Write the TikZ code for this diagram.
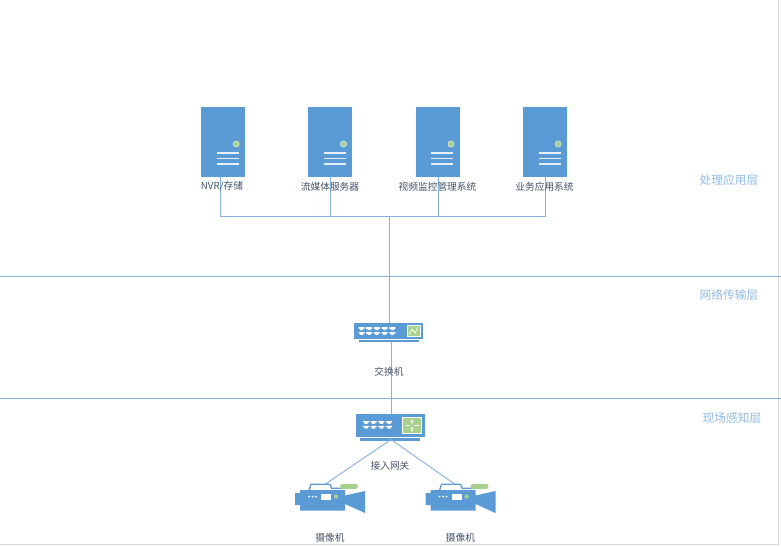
\documentclass[tikz,border=0pt]{standalone}
\usepackage{fontspec}
\setmainfont{Noto Sans CJK SC}
\usetikzlibrary{calc}
\definecolor{iconblue}{HTML}{5B9BD5}
\definecolor{icongreen}{HTML}{A9D18E}
\definecolor{linkblue}{HTML}{85B2DF}
\definecolor{labelgrey}{HTML}{44546A}
\definecolor{layerblue}{HTML}{8FBBE5}
\definecolor{pagegrey}{HTML}{D9D9D9}
\tikzset{
  x=0.75pt,y=-0.75pt,
  link/.style={draw=linkblue,line width=0.7pt},
  pageedge/.style={draw=pagegrey,line width=1.1pt},
  iconbody/.style={fill=iconblue,draw=white,line width=0.35pt,inner sep=0pt,outer sep=0pt},
  itemlabel/.style={text=labelgrey,font=\fontsize{7.3pt}{9pt}\selectfont,inner sep=0pt},
  layerlabel/.style={text=layerblue,font=\fontsize{8.8pt}{11pt}\selectfont,inner sep=0pt},
  whiteline/.style={draw=white,line width=1pt},
  greenpanel/.style={fill=icongreen,draw=white,line width=0.4pt},
  serverdetail/.pic={
    \draw[whiteline,opacity=.85] (-6,9.5)--(16,9.5) (-6,15)--(16,15) (-6,20.5)--(16,20.5);
    \fill[icongreen,draw=white,line width=0.25pt] (13.5,0.5) circle (3.1);
  },
  porticon/.pic={
    \fill[white] (0,0)--(6,0)--(6,1.6)--(4.5,1.6)--(4.5,2.8)--(1.5,2.8)--(1.5,1.6)--(0,1.6)--cycle;
  },
  camera/.pic={
    \draw[iconblue,line width=1pt] (-21,-5)--(-19,-11.2)--(0,-11.2)--(1.7,-7.2)--(12,-7.2);
    \fill[iconblue] (-35,-2.5) rectangle (-30,9.5)
      (-30,-5.5) -- (15,-5.5) -- (15,0) -- (35,-4.5) -- (35,17.5) -- (15,8.5) -- (15,15) -- (-30,15) -- cycle;
    \fill[icongreen] (12.5,-11.5) rectangle (25.5,-6.5);
    \fill[icongreen] (12.5,-9) circle (2.5) (25.5,-9) circle (2.5);
    \fill[white] (-9,-1.5) rectangle (1,4);
    \fill[white] (-21,1) circle (1) (-17.5,1) circle (1) (-14,1) circle (1);
    \fill[icongreen] (6,1) circle (2.2);
  },
}
\begin{document}
\begin{tikzpicture}
\useasboundingbox (0,0) rectangle (781,546);
\fill[white] (0,0) rectangle (781,546);
% page edges
\coordinate (pageR0) at (778.5,0); \coordinate (pageR1) at (778.5,546);
\coordinate (pageB0) at (0,544.5); \coordinate (pageB1) at (778.5,544.5);
\draw[pageedge] (pageR0)--(pageR1);
\draw[pageedge] (pageB0)--(pageB1);
% layer rules
\coordinate (ruleA0) at (0,276.5); \coordinate (ruleA1) at (781,276.5);
\coordinate (ruleB0) at (0,398); \coordinate (ruleB1) at (781,398);
\draw[link] (ruleA0)--(ruleA1);
\draw[link] (ruleB0)--(ruleB1);
% servers
\foreach \nm/\cx in {s1/222.7,s2/330,s3/437.4,s4/544.7}{
  \node[iconbody,minimum width=33.6pt,minimum height=53pt] (\nm) at (\cx,142) {};
  \pic at (\cx,143.5) {serverdetail};
}
% switch
\node[iconbody,minimum width=52.5pt,minimum height=12.5pt] (sw) at (388.7,331) {};
\fill[iconblue] (358.5,340) rectangle (419,342);
\foreach \px in {358.5,366.2,373.9,381.6,389.3}{
  \pic at (\px,327.2) {porticon};
  \pic at (\px,332) {porticon};
}
\node[greenpanel,minimum width=9.8pt,minimum height=8.5pt,inner sep=0pt] (swp) at (413.5,331) {};
\draw[white,line width=0.5pt] (409,335)--(412,329)--(415,333)--(418,327);
% gateway
\node[iconbody,minimum width=52.5pt,minimum height=18pt] (gw) at (390.5,425.5) {};
\fill[iconblue] (360,438) rectangle (420,440.5);
\foreach \gx in {363,370.7,378.4,386.1}{
  \pic at (\gx,421) {porticon};
  \pic at (\gx,425.8) {porticon};
}
\node[greenpanel,minimum width=14.5pt,minimum height=11.5pt,inner sep=0pt] (gwp) at (412,425.3) {};
\draw[white,line width=0.8pt] (405.5,425.3)--(418.5,425.3) (412,419.5)--(412,431);
\fill[icongreen] (412,425.3) circle (2.2);
% connector anchors
\coordinate (s1p) at (220.3,177);
\coordinate (s2p) at (330.4,177);
\coordinate (s3p) at (438.2,177);
\coordinate (s4p) at (545.3,177);
\coordinate (bus) at (389,216.5);
\coordinate (swtop) at (389,323);
\coordinate (swbot) at (391,341.5);
\coordinate (gwtop) at (391,413.5);
\coordinate (gwbot) at (391,439.5);
\coordinate (cam1p) at (324,485);
\coordinate (cam2p) at (456,485);
% connectors
\draw[link] (s1p) |- (bus);
\draw[link] (s2p) |- (bus);
\draw[link] (s3p) |- (bus);
\draw[link] (s4p) |- (bus);
\draw[link] (bus) -- (swtop);
\draw[link] (swbot) -- (gwtop);
\draw[link] (gwbot) -- (cam1p);
\draw[link] (gwbot) -- (cam2p);
% cameras
\pic at (330,495.5) {camera};
\pic at (460.5,495.5) {camera};
% labels
\node[itemlabel] (l1) at (222,186.5) {NVR/存储};
\node[itemlabel] (l2) at (330,186.5) {流媒体服务器};
\node[itemlabel] (l3) at (437.5,186.5) {视频监控管理系统};
\node[itemlabel] (l4) at (544.5,186.5) {业务应用系统};
\node[itemlabel] (l5) at (389,372) {交换机};
\node[itemlabel] (l6) at (390,466) {接入网关};
\node[itemlabel] (l7) at (330,538) {摄像机};
\node[itemlabel] (l8) at (460.5,538) {摄像机};
\node[layerlabel] (t1) at (729,180) {处理应用层};
\node[layerlabel] (t2) at (729,295.5) {网络传输层};
\node[layerlabel] (t3) at (732,418) {现场感知层};
\end{tikzpicture}
\end{document}
